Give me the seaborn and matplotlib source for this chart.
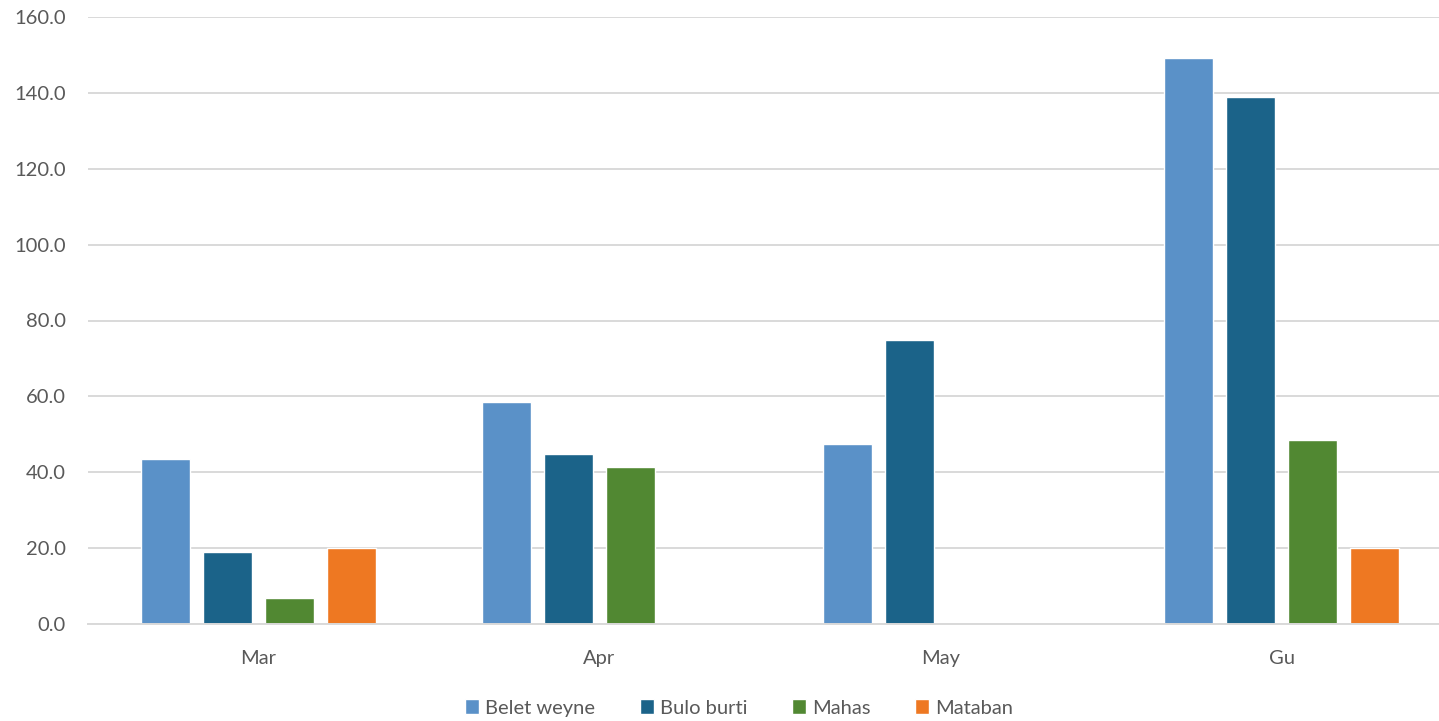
import matplotlib
matplotlib.use("Agg")
import matplotlib.pyplot as plt
import seaborn as sns
import pandas as pd

categories = ["Mar", "Apr", "May", "Gu"]
series = ["Belet weyne", "Bulo burti", "Mahas", "Mataban"]
belet_weyne = [43.4, 58.4, 47.4, 149.3]
bulo_burti = [18.9, 44.9, 74.9, 138.8]
mahas = [6.9, 41.3, None, 48.4]
mataban = [20.0, None, None, 20.0]
colors = ["#5A91C8", "#1B6389", "#518832", "#EE7822"]
yticks = [0, 20, 40, 60, 80, 100, 120, 140, 160]

rows = []
for name, vals in zip(series, [belet_weyne, bulo_burti, mahas, mataban]):
    for c, v in zip(categories, vals):
        rows.append({"cat": c, "series": name, "value": v if v is not None else 0.0})
df = pd.DataFrame(rows)

sns.set_theme(style="white")
plt.rcParams["font.family"] = ["Lato", "DejaVu Sans"]

fig = plt.figure(figsize=(14.39, 7.21), dpi=100)
ax = fig.add_axes([88 / 1439, 1 - 624 / 721, 1364 / 1439, (624 - 17) / 721])
ax.set_axisbelow(True)
sns.barplot(data=df, x="cat", y="value", hue="series", order=categories,
            hue_order=series, palette=colors, width=0.727, gap=0.22,
            saturation=1, errorbar=None, ax=ax, legend=True)
ax.set_xlim(-0.5, 3.5)
ax.set_ylim(0, 160)
ax.set_yticks(yticks)
ax.set_yticklabels([f"{t:.1f}" for t in yticks])
ax.yaxis.grid(True, color="#D9D9D9", linewidth=1.4)
ax.set_xlabel("")
ax.set_ylabel("")
for s in ["top", "right", "left"]:
    ax.spines[s].set_visible(False)
ax.spines["bottom"].set_color("#D9D9D9")
ax.spines["bottom"].set_linewidth(1.4)
ax.tick_params(axis="y", length=0, pad=16, labelsize=14.5, labelcolor="#595959")
ax.tick_params(axis="x", length=0, pad=19, labelsize=14.5, labelcolor="#595959")

handles, labels = ax.get_legend_handles_labels()
ax.get_legend().remove()
fig.legend(handles, labels, loc="center", bbox_to_anchor=(739 / 1439, 1 - 708 / 721),
           ncol=4, frameon=False, fontsize=14.5, labelcolor="#595959",
           handlelength=0.7, handleheight=0.7, handletextpad=0.3, columnspacing=2.2)

fig.savefig("out.png", dpi=100)
